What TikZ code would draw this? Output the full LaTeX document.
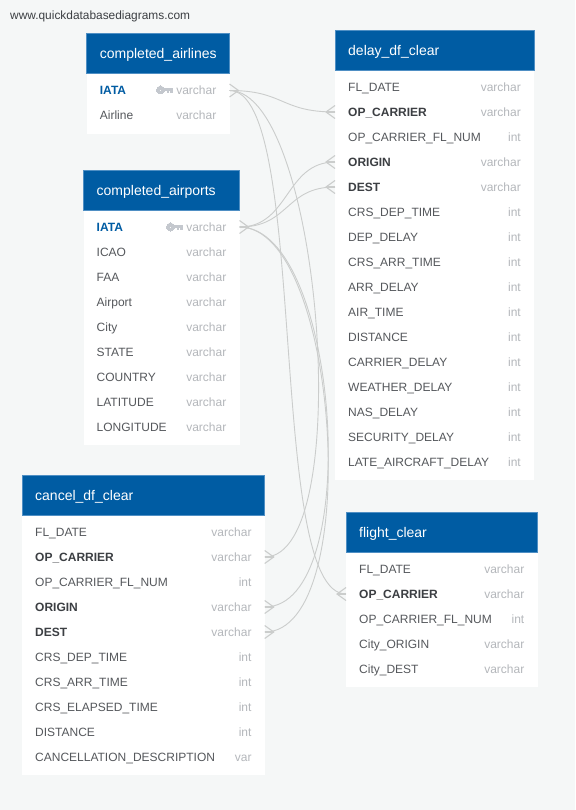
\documentclass[tikz,border=0pt]{standalone}
\usepackage{fontspec}
\setmainfont{Liberation Sans}
\definecolor{bgc}{HTML}{F5F7F7}
\definecolor{headc}{HTML}{005CA3}
\definecolor{headb}{HTML}{4F8FC4}
\definecolor{typec}{HTML}{B4B7BB}
\definecolor{textc}{HTML}{55585C}
\definecolor{boldc}{HTML}{3C3F43}
\definecolor{linec}{HTML}{CBCDCC}
\definecolor{keyc}{HTML}{C4C8CE}
\tikzset{
  x=1pt,y=-1pt,
  bodybox/.style={fill=white,draw=none},
  headbox/.style={fill=headc,draw=headb,line width=.6pt},
  titletext/.style={text=white,font=\fontsize{14}{16}\selectfont,anchor=base west,inner sep=0pt},
  plainrow/.style={text=textc,font=\fontsize{12}{14}\selectfont,anchor=base west,inner sep=0pt},
  boldrow/.style={text=boldc,font=\fontsize{12}{14}\selectfont\bfseries,anchor=base west,inner sep=0pt},
  pkrow/.style={text=headc,font=\fontsize{12}{14}\selectfont\bfseries,anchor=base west,inner sep=0pt},
  typetext/.style={text=typec,font=\fontsize{12}{14}\selectfont,anchor=base east,inner sep=0pt},
  link/.style={draw=linec,line width=.9pt},
  crow/.style={draw=linec,line width=1.1pt},
  keyshape/.style={draw=keyc,fill=keyc,line width=0pt},
}
% name, x0, x1, top, header bottom, bottom, title, rows
\newcommand{\dbtable}[8]{%
  \path[bodybox] (#2,#5) rectangle (#3,#6);
  \path[headbox] (#2,#4) rectangle (#3,#5);
  \node[titletext] (#1-title) at (#2+13,#4+25.3) {#7};
  \foreach \rname/\rtype/\rstyle [count=\ri] in {#8}{
    \pgfmathsetmacro{\ry}{#5+17+25*(\ri-1)}
    \node[\rstyle] (#1-\ri-name) at (#2+13,\ry+4.2) {\rname};
    \node[typetext] (#1-\ri-type) at (#3-13,\ry+4.2) {\rtype};
    \coordinate (#1-\ri-L) at (#2,\ry);
    \coordinate (#1-\ri-R) at (#3,\ry);
  }
}
\newcommand{\keyicon}[2]{%
  \path[keyshape,even odd rule] (#1,#2) circle[radius=4] (#1,#2) circle[radius=1.3];
  \path[keyshape] (#1+3,#2-1.7) rectangle (#1+11.5,#2+.7);
  \path[keyshape] (#1+6.5,#2) rectangle (#1+8.3,#2+2.8);
  \path[keyshape] (#1+9.5,#2) rectangle (#1+11.5,#2+2.8);
}
% crow foot on the right side (#2=+1) or left side (#2=-1) of a table edge
\newcommand{\crowfoot}[2]{%
  \draw[crow] (#1) ++(0,-6.5) -- ++(#2*9,6.5) -- ++(#2*-9,6.5);
  \draw[crow] (#1) -- ++(#2*9,0);
}
\begin{document}
\begin{tikzpicture}
\path[fill=bgc,use as bounding box] (0,0) rectangle (575,810);
\node[text=boldc,font=\fontsize{11.9}{13}\selectfont,anchor=base west,inner sep=0pt] (site) at (10,20) {www.quickdatabasediagrams.com};

\dbtable{air}{86.7}{229.5}{33.5}{73.5}{134}{completed\_airlines}{
  IATA/varchar/pkrow, Airline/varchar/plainrow}
\dbtable{port}{83.5}{239.5}{170}{210}{445}{completed\_airports}{
  IATA/varchar/pkrow, ICAO/varchar/plainrow, FAA/varchar/plainrow, Airport/varchar/plainrow,
  City/varchar/plainrow, STATE/varchar/plainrow, COUNTRY/varchar/plainrow,
  LATITUDE/varchar/plainrow, LONGITUDE/varchar/plainrow}
\dbtable{delay}{335}{534}{30}{70}{480}{delay\_df\_clear}{
  FL\_DATE/varchar/plainrow, OP\_CARRIER/varchar/boldrow, OP\_CARRIER\_FL\_NUM/int/plainrow,
  ORIGIN/varchar/boldrow, DEST/varchar/boldrow, CRS\_DEP\_TIME/int/plainrow,
  DEP\_DELAY/int/plainrow, CRS\_ARR\_TIME/int/plainrow, ARR\_DELAY/int/plainrow,
  AIR\_TIME/int/plainrow, DISTANCE/int/plainrow, CARRIER\_DELAY/int/plainrow,
  WEATHER\_DELAY/int/plainrow, NAS\_DELAY/int/plainrow, SECURITY\_DELAY/int/plainrow,
  LATE\_AIRCRAFT\_DELAY/int/plainrow}
\dbtable{flight}{346}{537.5}{512}{552}{687}{flight\_clear}{
  FL\_DATE/varchar/plainrow, OP\_CARRIER/varchar/boldrow, OP\_CARRIER\_FL\_NUM/int/plainrow,
  City\_ORIGIN/varchar/plainrow, City\_DEST/varchar/plainrow}
\dbtable{cancel}{22}{264.7}{475}{515}{775}{cancel\_df\_clear}{
  FL\_DATE/varchar/plainrow, OP\_CARRIER/varchar/boldrow, OP\_CARRIER\_FL\_NUM/int/plainrow,
  ORIGIN/varchar/boldrow, DEST/varchar/boldrow, CRS\_DEP\_TIME/int/plainrow,
  CRS\_ARR\_TIME/int/plainrow, CRS\_ELAPSED\_TIME/int/plainrow, DISTANCE/int/plainrow,
  CANCELLATION\_DESCRIPTION/var/plainrow}

\keyicon{160.5}{90}
\keyicon{170.5}{227}

% connectors
\draw[link] (air-1-R) .. controls +(55,0) and +(-55,0) .. (delay-2-L);
\draw[link] (air-1-R) .. controls +(92,0) and +(92,0) .. (cancel-2-R);
\draw[link] (air-1-R) .. controls +(80,0) and +(-80,0) .. (flight-2-L);
\draw[link] (port-1-R) .. controls +(50,0) and +(-50,0) .. (delay-4-L);
\draw[link] (port-1-R) .. controls +(50,0) and +(-50,0) .. (delay-5-L);
\draw[link] (port-1-R) .. controls +(100,0) and +(100,0) .. (cancel-4-R);
\draw[link] (port-1-R) .. controls +(100,0) and +(100,0) .. (cancel-5-R);

\crowfoot{air-1-R}{1}
\crowfoot{port-1-R}{1}
\crowfoot{delay-2-L}{-1}
\crowfoot{delay-4-L}{-1}
\crowfoot{delay-5-L}{-1}
\crowfoot{flight-2-L}{-1}
\crowfoot{cancel-2-R}{1}
\crowfoot{cancel-4-R}{1}
\crowfoot{cancel-5-R}{1}
\end{tikzpicture}
\end{document}
